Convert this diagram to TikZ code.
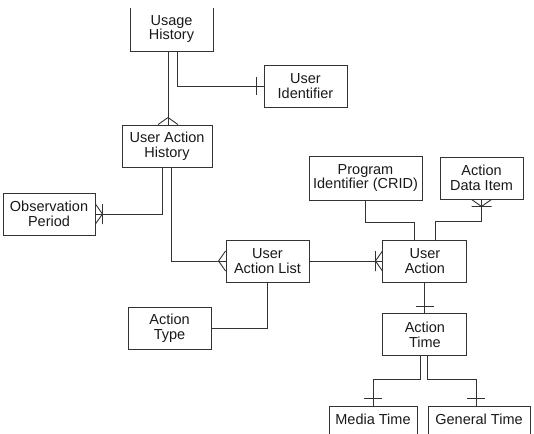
\documentclass[tikz,border=0pt]{standalone}
\usepackage{fontspec}
\setmainfont{Liberation Sans}
\usetikzlibrary{positioning,calc,decorations.markings}

\begin{document}
\begin{tikzpicture}[x=1pt,y=-1pt,auto,node distance=20pt]

      \tikzstyle{entity}=[draw=black!80,line width=0.9pt,shape=rectangle,minimum width=83pt,minimum height=42pt,inner sep=2pt,align=center,text=black!90,font=\fontsize{14.5}{14.5}\selectfont]
      \tikzstyle{link}=[draw=black!80,line width=0.9pt]
      \tikzstyle{oneend}=[postaction={decorate,decoration={markings,mark=at position 1 with {\draw[draw=black!80,line width=0.9pt] (-7pt,-9pt) -- (-7pt,9pt);}}}]
      \tikzstyle{manyend}=[postaction={decorate,decoration={markings,mark=at position 1 with {\draw[draw=black!80,line width=0.9pt] (0pt,-10pt) -- (-7pt,0pt) -- (0pt,10pt);}}}]
      \tikzstyle{onemanyend}=[postaction={decorate,decoration={markings,mark=at position 1 with {\draw[draw=black!80,line width=0.9pt] (0pt,-10pt) -- (-7pt,0pt) -- (0pt,10pt) (-7pt,-10pt) -- (-7pt,10pt);}}}]

      \useasboundingbox (0,0) rectangle (534,433);
      \clip (0,9) rectangle (534,433);

      \node[entity,minimum height=44pt] (ush) at (171.5,29) {Usage\\History};
      \node[entity] (uid) at (305.5,86) {User\\Identifier};
      \node[entity,minimum width=90pt] (uah) at (167,146) {User Action\\History};
      \node[entity,minimum width=92pt] (obs) at (49,214) {Observation\\Period};

      \node[entity] (ual) at (267.5,261) {User\\Action List};
      \node[entity] (atype) at (169.5,328) {Action\\Type};

      \node[entity,minimum width=113pt,minimum height=44pt] (pid) at (365.5,178) {Program\\Identifier (CRID)};
      \node[entity] (adi) at (481.5,178) {Action\\Data Item};
      \node[entity,minimum width=84pt] (ua) [right=73pt of ual] {User\\Action};
      \node[entity,minimum width=84pt] (atime) [below=31pt of ua] {Action\\Time};

      \node[entity,minimum width=88pt,text depth=16pt] (mt) at (373,427) {Media Time};
      \node[entity,minimum width=102pt,text depth=16pt] (gt) at (479,427) {General Time};

      \draw[link,manyend] ([xshift=-3.5pt]ush.south) -- ([xshift=-3.5pt]ush.south |- uah.north);
      \draw[link,oneend] ([xshift=5.5pt]ush.south) |- (uid.west);
      \draw[link,onemanyend] ([xshift=-5pt]uah.south) |- (obs.east);
      \draw[link,manyend] ([xshift=4pt]uah.south) |- (ual.west);
      \draw[link,onemanyend] (ual.east) -- (ua.west);
      \draw[link] (ual.south) |- (atype.east);
      \draw[link] (pid.south) |- ($(pid.south)!.55!(ua.north)$) -| ([xshift=-10pt]ua.north);
      \draw[link,onemanyend] ([xshift=11pt]ua.north) |- ($(ua.north)!.45!(adi.south)$) -| (adi.south);
      \draw[link,oneend] (atime.north |- ua.south) -- (atime.north);
      \draw[link,oneend] ([xshift=-4pt]atime.south) |- ($(atime.south)!.47!(mt.north)$) -| (mt.north);
      \draw[link,oneend] ([xshift=3pt]atime.south) |- ($(atime.south)!.47!(gt.north)$) -| ([xshift=-3pt]gt.north);
    \end{tikzpicture}
\end{document}
